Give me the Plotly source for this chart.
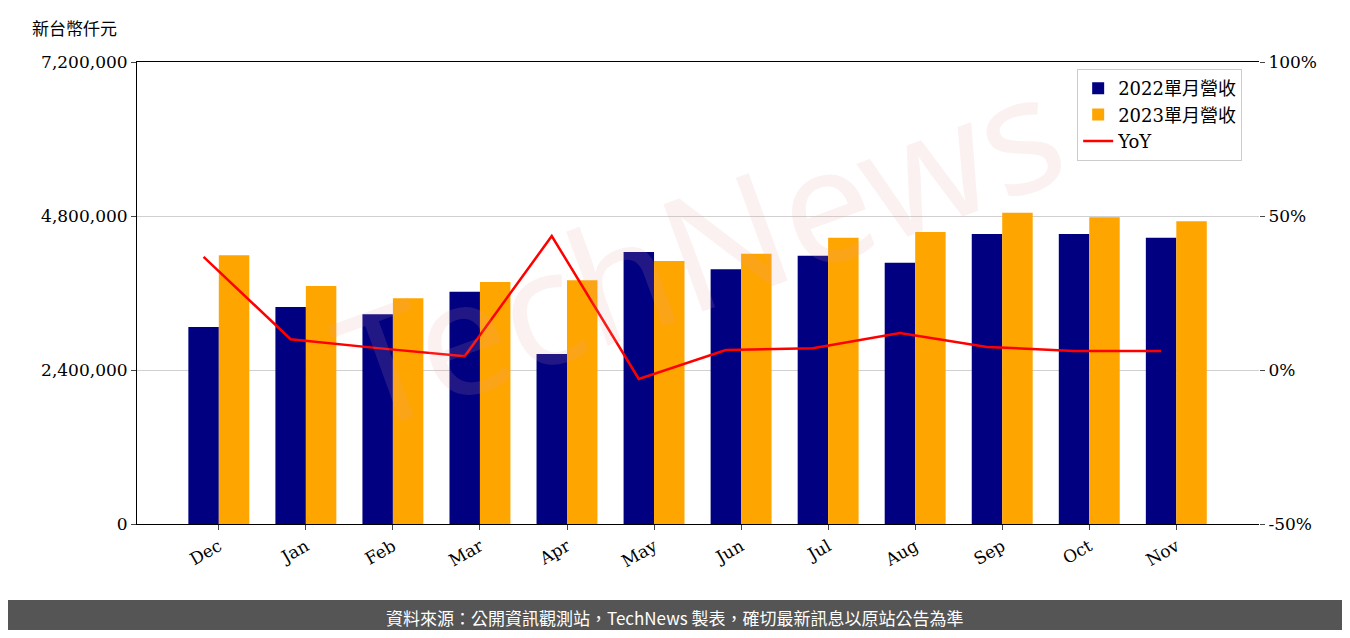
import plotly.graph_objects as go

months = ["Dec","Jan","Feb","Mar","Apr","May","Jun","Jul","Aug","Sep","Oct","Nov"]
rev2022 = [3070000,3380000,3270000,3620000,2650000,4240000,3970000,4180000,4070000,4520000,4520000,4460000]
rev2023 = [4190000,3710000,3520000,3770000,3800000,4100000,4210000,4460000,4550000,4850000,4780000,4720000]
yoy = [36.7,10.0,7.1,4.5,43.5,-2.9,6.5,7.1,12.0,7.5,6.2,6.2]

F = "DejaVu Serif, Noto Sans CJK TC"
fig = go.Figure()
fig.add_bar(x=months, y=rev2022, name="2022單月營收", marker_color="#000080", marker_line_width=0)
fig.add_bar(x=months, y=rev2023, name="2023單月營收", marker_color="#FFA500", marker_line_width=0)
fig.add_scatter(x=months, y=yoy, name="YoY", xaxis="x2", yaxis="y2", mode="lines",
                line=dict(color="red", width=2.5))
fig.update_layout(
    width=1334, height=622, plot_bgcolor="white", paper_bgcolor="white",
    margin=dict(l=129, r=83, t=54, b=106),
    barmode="group", bargap=0.3, bargroupgap=0,
    font=dict(family=F, size=17, color="black"),
    xaxis=dict(showline=True, linecolor="black", mirror=True, tickangle=-30,
               ticks="outside", tickfont=dict(size=17), range=[-0.94, 11.95]),
    xaxis2=dict(overlaying="x", range=[-0.94+0.175, 11.95+0.175], visible=False,
                type="category", categoryarray=months),
    yaxis=dict(range=[0,7200000], tickvals=[0,2400000,4800000,7200000],
               ticktext=["0","2,400,000","4,800,000","7,200,000"],
               showgrid=True, gridcolor="#d0d0d0", ticks="outside",
               showline=True, linecolor="black", zeroline=False),
    yaxis2=dict(overlaying="y", side="right", range=[-50,100],
                tickvals=[-50,0,50,100], ticktext=["-50%","0%","50%","100%"],
                showgrid=False, ticks="outside", zeroline=False),
    legend=dict(x=0.985, y=0.985, xanchor="right", yanchor="top",
                bordercolor="#cccccc", borderwidth=1, bgcolor="rgba(255,255,255,0.8)",
                font=dict(size=18)),
)
fig.add_annotation(text="新台幣仟元", xref="paper", yref="paper", x=(30-137)/1122, y=(524-27)/462,
                   xanchor="left", yanchor="middle", showarrow=False,
                   font=dict(size=17, family="Noto Sans CJK TC"))
fig.add_annotation(text="TechNews", xref="paper", yref="paper", x=0.5, y=0.6,
                   showarrow=False, textangle=-20,
                   font=dict(size=160, family="Noto Sans", color="rgba(230,160,160,0.15)"))
fig.add_shape(type="rect", xref="paper", yref="paper", x0=-0.2, x1=1.2,
              y0=-(600-524)/462, y1=-(660-524)/462, fillcolor="#555555", line_width=0)
fig.add_annotation(text="資料來源：公開資訊觀測站，TechNews 製表，確切最新訊息以原站公告為準",
                   xref="paper", yref="paper", x=(675-137)/1122, y=-(617-524)/462,
                   yanchor="middle", showarrow=False,
                   font=dict(size=17, color="white", family="Noto Sans CJK TC"))
fig.write_html("out.html")
